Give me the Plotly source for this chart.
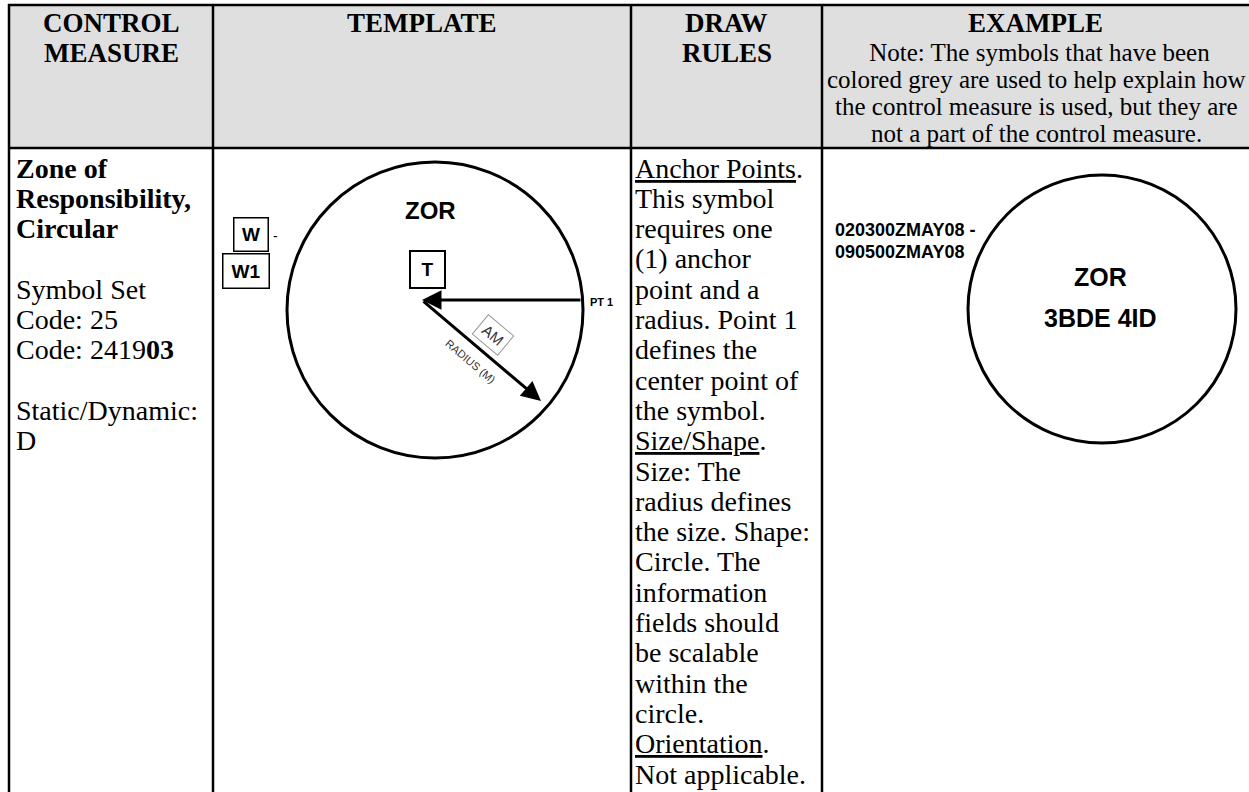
import plotly.graph_objects as go

W, H = 1249, 792

# ---- table text ----
header_cells = [["CONTROL", "MEASURE"], ["TEMPLATE"], ["DRAW", "RULES"], ["EXAMPLE"]]
example_note = [" Note: The symbols that have been",
                "colored grey are used to help explain how",
                "the control measure is used, but they are",
                "not a part of the control measure."]
measure_lines = ["<b>Zone of</b>", "<b>Responsibility,</b>", "<b>Circular</b>", "",
                 "Symbol Set", "Code: 25", "Code: 2419<b>03</b>", "",
                 "Static/Dynamic:", "D"]
rule_lines = ["<u>Anchor Points</u>.", "This symbol", "requires one", "(1) anchor",
              "point and a", "radius. Point 1", "defines the", "center point of",
              "the symbol.", "<u>Size/Shape</u>.", "Size: The", "radius defines",
              "the size. Shape:", "Circle. The", "information", "fields should",
              "be scalable", "within the", "circle.", "<u>Orientation</u>.",
              "Not applicable."]
template_labels = {"zor": "ZOR", "t": "T", "w": "W", "w1": "W1", "dash": "-",
                   "pt1": "PT 1", "am": "AM", "radius": "RADIUS (M)"}
example_dtg = ["020300ZMAY08 -", "090500ZMAY08"]
example_center = ["ZOR", "3BDE 4ID"]

SERIF = "Liberation Serif, Times New Roman, serif"
SANS = "Liberation Sans, Arial, sans-serif"

col_x = [9, 213, 631, 822, 1249]
head_top, head_bot = 5, 148

fig = go.Figure()
shapes = []
ann = []

# header background
shapes.append(dict(type="rect", x0=col_x[0], x1=W, y0=head_top, y1=head_bot,
                   fillcolor="#dfdfdf", line=dict(width=0), layer="below"))
# grid lines
shapes.append(dict(type="line", x0=col_x[0] - 1, x1=W, y0=head_top, y1=head_top,
                   line=dict(color="black", width=2.5)))
shapes.append(dict(type="line", x0=col_x[0] - 1, x1=W, y0=head_bot, y1=head_bot,
                   line=dict(color="black", width=2.5)))
for cx in col_x[:4]:
    shapes.append(dict(type="line", x0=cx, x1=cx, y0=head_top - 1, y1=H,
                       line=dict(color="black", width=2.5)))

# header texts
centers = [(col_x[i] + col_x[i + 1]) / 2 for i in range(4)]
for i, lines in enumerate(header_cells):
    for j, t in enumerate(lines):
        ann.append(dict(x=centers[i], y=23 + j * 30, text="<b>%s</b>" % t,
                        font=dict(family=SERIF, size=27, color="black")))
for j, t in enumerate(example_note):
    ann.append(dict(x=centers[3] + 1, y=52 + j * 27, text=t,
                    font=dict(family=SERIF, size=25, color="black")))

# body columns
for j, t in enumerate(measure_lines):
    if t:
        ann.append(dict(x=14, y=168 + j * 30.3, text=t, xanchor="left",
                        font=dict(family=SERIF, size=28, color="black")))
for j, t in enumerate(rule_lines):
    ann.append(dict(x=633, y=168 + j * 30.3, text=t, xanchor="left",
                    font=dict(family=SERIF, size=28, color="black")))

# ---- template graphic ----
tcx, tcy, tr = 435, 310, 148
shapes.append(dict(type="circle", x0=tcx - tr, x1=tcx + tr, y0=tcy - tr, y1=tcy + tr,
                   line=dict(color="black", width=3)))
ann.append(dict(x=430, y=210, text="<b>%s</b>" % template_labels["zor"],
                font=dict(family=SANS, size=24, color="black")))
ann.append(dict(x=427, y=269, text="<b>%s</b>" % template_labels["t"],
                font=dict(family=SANS, size=19, color="black"), width=31, height=33,
                bordercolor="black", borderwidth=2, borderpad=1))
ann.append(dict(x=251, y=234, text="<b>%s</b>" % template_labels["w"],
                font=dict(family=SANS, size=19, color="black"), width=31, height=30,
                bordercolor="black", borderwidth=1.5, borderpad=1, bgcolor="white"))
ann.append(dict(x=246, y=271, text="<b>%s</b>" % template_labels["w1"],
                font=dict(family=SANS, size=19, color="black"), width=43, height=31,
                bordercolor="black", borderwidth=1.5, borderpad=1, bgcolor="white"))
ann.append(dict(x=275, y=236, text=template_labels["dash"],
                font=dict(family=SANS, size=14, color="black")))
ann.append(dict(x=588, y=302, text="<b>%s</b>" % template_labels["pt1"], xanchor="left",
                font=dict(family=SANS, size=11, color="black")))
# arrows
ann.append(dict(x=422, y=300, ax=tcx + tr - 1, ay=300, axref="x", ayref="y",
                xref="x", yref="y", text="", showarrow=True, arrowhead=2,
                arrowsize=1.3, arrowwidth=3, arrowcolor="black"))
ann.append(dict(x=541, y=401, ax=422, ay=300, axref="x", ayref="y",
                xref="x", yref="y", text="", showarrow=True, arrowhead=2,
                arrowsize=1.3, arrowwidth=3, arrowcolor="black"))
ann.append(dict(x=493, y=335, text=template_labels["am"], textangle=40,
                font=dict(family=SANS, size=15, color="#333333"), width=30, height=22,
                bordercolor="#999999", borderwidth=1, borderpad=1))
ann.append(dict(x=470, y=361, text=template_labels["radius"], textangle=40,
                font=dict(family=SANS, size=11, color="#333333")))

# ---- example graphic ----
ecx, ecy, er = 1102, 309, 134
shapes.append(dict(type="circle", x0=ecx - er, x1=ecx + er, y0=ecy - er, y1=ecy + er,
                   line=dict(color="black", width=3)))
for j, t in enumerate(example_dtg):
    ann.append(dict(x=833, y=230 + j * 22, text="<b>%s</b>" % t, xanchor="left",
                    font=dict(family=SANS, size=18, color="black")))
for j, t in enumerate(example_center):
    ann.append(dict(x=1100, y=277 + j * 41, text="<b>%s</b>" % t,
                    font=dict(family=SANS, size=25, color="black")))

for a in ann:
    a.setdefault("xref", "x")
    a.setdefault("yref", "y")
    a.setdefault("showarrow", False)
    a.setdefault("yanchor", "middle")

fig.update_layout(
    width=W, height=H, margin=dict(l=0, r=0, t=0, b=0),
    paper_bgcolor="white", plot_bgcolor="white",
    xaxis=dict(range=[0, W], visible=False, fixedrange=True),
    yaxis=dict(range=[H, 0], visible=False, fixedrange=True),
    shapes=shapes, annotations=ann, showlegend=False,
)
fig.write_html("out.html", config={"displayModeBar": False, "staticPlot": True},
               post_script="document.body.style.margin='0';document.body.style.overflow='hidden';")
